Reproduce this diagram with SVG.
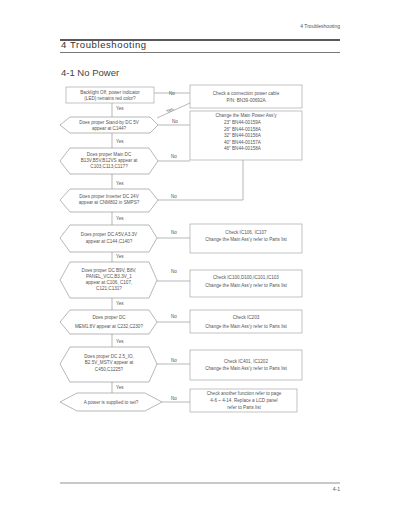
<svg xmlns="http://www.w3.org/2000/svg" width="400" height="518" viewBox="0 0 400 518">
<style>
text{font-family:"Liberation Sans",Arial,sans-serif;fill:#555;}
.t{font-size:4.6px;text-anchor:middle;}
.l{font-size:4.6px;}
.box{fill:#fff;stroke:#999;stroke-width:0.6;}
.dia{fill:#fff;stroke:#888;stroke-width:0.6;}
.c{fill:none;stroke:#999;stroke-width:0.7;}
</style>
<rect width="400" height="518" fill="#fff"/>
<g id="header">
<text x="340" y="28" style="font-size:5px" text-anchor="end">4 Troubleshooting</text>
<line x1="60" y1="40" x2="340" y2="40" stroke="#222" stroke-width="1.4"/>
<text x="61" y="48" style="font-size:9.5px;letter-spacing:0.6px;fill:#333">4 Troubleshooting</text>
<line x1="60" y1="52.5" x2="340" y2="52.5" stroke="#555" stroke-width="0.8"/>
<text x="61" y="76" style="font-size:9.5px;fill:#444">4-1 No Power</text>
</g>
<g id="connectors">
<line class="c" x1="112" y1="103" x2="112" y2="117"/>
<line class="c" x1="112" y1="133" x2="112" y2="148"/>
<line class="c" x1="112" y1="174" x2="112" y2="189"/>
<line class="c" x1="112" y1="212" x2="112" y2="225"/>
<line class="c" x1="112" y1="252" x2="112" y2="262"/>
<line class="c" x1="112" y1="298" x2="112" y2="310"/>
<line class="c" x1="112" y1="334" x2="112" y2="347"/>
<line class="c" x1="112" y1="382" x2="112" y2="393"/>
<line class="c" x1="154" y1="93" x2="190" y2="93"/>
<line class="c" x1="157" y1="118" x2="190" y2="103"/>
<line class="c" x1="158" y1="125" x2="190" y2="125"/>
<line class="c" x1="158" y1="161" x2="190" y2="161"/>
<polyline class="c" points="158,200 243,200 243,160"/>
<line class="c" x1="157" y1="238" x2="190" y2="238"/>
<line class="c" x1="157" y1="281" x2="190" y2="281"/>
<line class="c" x1="157" y1="322" x2="190" y2="322"/>
<line class="c" x1="157" y1="364" x2="190" y2="364"/>
<line class="c" x1="162" y1="402" x2="190" y2="402"/>
<text class="l" x="116" y="110">Yes</text>
<text class="l" x="116" y="143">Yes</text>
<text class="l" x="116" y="185">Yes</text>
<text class="l" x="116" y="220">Yes</text>
<text class="l" x="116" y="258">Yes</text>
<text class="l" x="116" y="305">Yes</text>
<text class="l" x="116" y="343">Yes</text>
<text class="l" x="116" y="389">Yes</text>
<text class="l" x="167" y="113" transform="rotate(-25 167 113)">Yes</text>
<text class="l" x="169" y="95">No</text>
<text class="l" x="172" y="123">No</text>
<text class="l" x="171" y="158">No</text>
<text class="l" x="171" y="198">No</text>
<text class="l" x="171" y="234">No</text>
<text class="l" x="171" y="273">No</text>
<text class="l" x="171" y="318">No</text>
<text class="l" x="171" y="362">No</text>
<text class="l" x="171" y="400">No</text>
</g>
<g id="q1">
<rect class="box" x="66" y="87" width="88" height="16"/>
<text class="t" x="110" y="94">Backlight Off, power indicator</text>
<text class="t" x="110" y="100">(LED) remains red color?</text>
</g>
<g id="q2">
<polygon class="dia" points="60,125 70,117 150,117 158,125 150,133 70,133"/>
<text class="t" x="109" y="124">Does proper Stand-by DC 5V</text>
<text class="t" x="109" y="130">appear at C144?</text>
</g>
<g id="q3">
<polygon class="dia" points="60,161 70,148 149,148 158,161 149,174 70,174"/>
<text class="t" x="109" y="156">Does proper Main DC</text>
<text class="t" x="109" y="162">B13V,B5V,B12VS appear at</text>
<text class="t" x="109" y="168">C103,C113,C117?</text>
</g>
<g id="q4">
<polygon class="dia" points="60,200 70,189 149,189 158,200 149,212 70,212"/>
<text class="t" x="109" y="198">Does proper Inverter DC 24V</text>
<text class="t" x="109" y="204">appear at CNM802 in SMPS?</text>
</g>
<g id="q5">
<polygon class="dia" points="60,238 70,225 149,225 157,238 149,252 70,252"/>
<text class="t" x="109" y="236">Does proper DC A5V,A3.3V</text>
<text class="t" x="109" y="243">appear at C144,C140?</text>
</g>
<g id="q6">
<polygon class="dia" points="60,280 70,262 149,262 157,280 149,298 70,298"/>
<text class="t" x="109" y="272">Does proper DC B9V, B8V,</text>
<text class="t" x="109" y="278">PANEL_VCC,B3.3V_1</text>
<text class="t" x="109" y="284">appear at C106, C107,</text>
<text class="t" x="109" y="290">C121,C131?</text>
</g>
<g id="q7">
<polygon class="dia" points="60,322 70,310 149,310 157,322 149,334 70,334"/>
<text class="t" x="109" y="319">Does proper DC</text>
<text class="t" x="109" y="328">MEM1.8V appear at C232,C230?</text>
</g>
<g id="q8">
<polygon class="dia" points="60,364 70,347 149,347 157,364 149,382 70,382"/>
<text class="t" x="109" y="358">Does proper DC 2.5_IO,</text>
<text class="t" x="109" y="364">B2.5V_MSTV appear at</text>
<text class="t" x="109" y="371">C450,C1225?</text>
</g>
<g id="q9">
<polygon class="dia" points="60,402 77,393 145,393 162,402 145,411 77,411"/>
<text class="t" x="111" y="404">A power is supplied to set?</text>
</g>
<g id="a1">
<rect class="box" x="190" y="85" width="112" height="23"/>
<text class="t" x="246" y="95">Check a connection power cable</text>
<text class="t" x="246" y="102">P/N: BN39-00692A</text>
</g>
<g id="a2">
<rect class="box" x="190" y="111" width="112" height="49"/>
<text class="t" x="246" y="117">Change the Main Power Ass'y</text>
<text class="l" x="224" y="124">23"  BN44-00159A</text>
<text class="l" x="224" y="130.5">26"  BN44-00158A</text>
<text class="l" x="224" y="137">32"  BN44-00156A</text>
<text class="l" x="224" y="143.5">40"  BN44-00157A</text>
<text class="l" x="224" y="150">46"  BN44-00158A</text>
</g>
<g id="a3">
<rect class="box" x="190" y="224" width="112" height="29"/>
<text class="t" x="246" y="234">Check IC106, IC107</text>
<text class="t" x="246" y="241">Change the Main Ass'y refer to Parts list</text>
</g>
<g id="a4">
<rect class="box" x="190" y="270" width="112" height="27"/>
<text class="t" x="246" y="279">Check IC100,D100,IC101,IC103</text>
<text class="t" x="246" y="287">Change the Main Ass'y refer to Parts list</text>
</g>
<g id="a5">
<rect class="box" x="190" y="310" width="112" height="23"/>
<text class="t" x="246" y="319">Check IC203</text>
<text class="t" x="246" y="328">Change the Main Ass'y refer to Parts list</text>
</g>
<g id="a6">
<rect class="box" x="190" y="350" width="112" height="30"/>
<text class="t" x="246" y="363">Check IC401, IC1202</text>
<text class="t" x="246" y="370">Change the Main Ass'y refer to Parts list</text>
</g>
<g id="a7">
<rect class="box" x="190" y="389" width="107" height="23"/>
<text class="t" x="244" y="395">Check another function refer to page</text>
<text class="t" x="244" y="402">4-6 ~ 4-14. Replace a LCD panel</text>
<text class="t" x="244" y="409">refer to Parts list</text>
</g>
<g id="footer">
<line x1="60" y1="483" x2="340" y2="483" stroke="#777" stroke-width="0.8"/>
<text x="340" y="491" style="font-size:5px" text-anchor="end">4-1</text>
</g>
</svg>
